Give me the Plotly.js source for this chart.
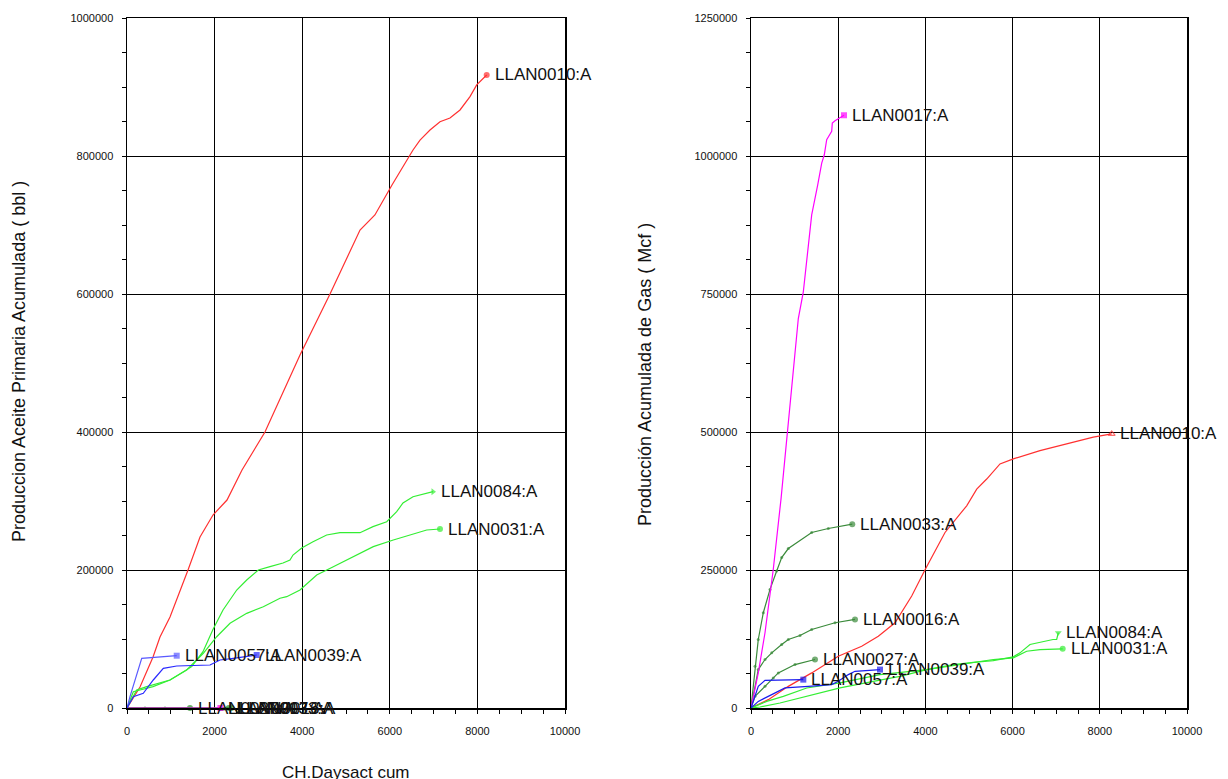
<!DOCTYPE html>
<html>
<head>
<meta charset="utf-8">
<script src="https://cdn.plot.ly/plotly-3.0.1.min.js"></script>
<style>html,body{margin:0;padding:0;background:#fff;}#chart{width:1228px;height:779px;}</style>
</head>
<body>
<div id="chart"></div>
<script>
// ---------- DATA (days vs cumulative production) ----------
const wellNames = ['LLAN0010:A','LLAN0016:A','LLAN0017:A','LLAN0027:A','LLAN0031:A','LLAN0033:A','LLAN0039:A','LLAN0057:A','LLAN0084:A'];

// Oil (bbl)
const w0010_oil_days = [0, 297, 594, 753, 982, 1256, 1393, 1667, 1963, 2283, 2626, 3150, 3950, 4635, 5320, 5660, 6050, 6530, 6690, 6918, 7146, 7374, 7603, 7831, 7984, 8212];
const w0010_oil      = [0, 30400, 73900, 102900, 131900, 175400, 200000, 247800, 279700, 301400, 345000, 400000, 511600, 600000, 692700, 714500, 758000, 808700, 823000, 837700, 849700, 855000, 866700, 886000, 903000, 917400];
const w0084_oil_days = [0, 144, 297, 594, 982, 1477, 1735, 1957, 2192, 2505, 2733, 2998, 3265, 3562, 3721, 3790, 3989, 4247, 4559, 4863, 5320, 5616, 5929, 6157, 6301, 6530, 6986];
const w0084_oil      = [0, 23600, 26100, 30900, 40600, 59900, 81600, 113000, 142000, 171000, 185500, 200000, 204800, 210100, 214500, 221700, 231900, 241000, 250700, 254100, 254100, 262800, 270000, 284500, 297100, 306200, 313500];
const w0031_oil_days = [0, 221, 450, 982, 1363, 1742, 2048, 2352, 2733, 3112, 3493, 3646, 3950, 4331, 4710, 5167, 5623, 6080, 6461, 6842, 7146];
const w0031_oil      = [0, 26100, 30900, 40600, 55100, 79300, 103300, 122800, 137200, 146800, 159000, 161300, 171000, 192800, 204800, 219300, 233800, 243500, 250700, 258000, 259400];
const w0057_oil_days = [0, 68, 336, 1135];
const w0057_oil      = [0, 16400, 72000, 75800];
const w0039_oil_days = [0, 144, 372, 600, 829, 1135, 1895, 2123, 2427, 2961];
const w0039_oil      = [0, 16400, 21300, 40600, 57500, 60900, 62300, 69600, 72000, 76800];
const w0027_oil_days = [0, 411, 868, 1438];
const w0027_oil      = [0, 0, 0, 0];
const w0017_oil_days = [0, 2133];
const w0017_oil      = [0, 0];
const w0016_oil_days = [0, 2385];
const w0016_oil      = [0, 0];
const w0033_oil_days = [0, 2323];
const w0033_oil      = [0, 0];

// Gas (Mcf)
const w0010_gas_days = [0, 397, 856, 1392, 2002, 2539, 2920, 3303, 3686, 3998, 4450, 4947, 5177, 5406, 5711, 6016, 6628, 7392, 7851, 8273];
const w0010_gas      = [0, 15100, 39200, 63600, 93700, 111900, 130100, 154400, 202800, 251300, 318000, 366300, 396600, 414800, 442100, 451200, 466200, 481500, 490600, 496600];
const w0017_gas_days = [0, 167, 321, 511, 688, 933, 1009, 1085, 1200, 1314, 1392, 1530, 1622, 1681, 1736, 1851, 1865, 1927, 2133];
const w0017_gas      = [0, 63600, 136300, 251300, 378500, 578300, 632800, 705500, 754000, 844800, 893200, 947700, 987100, 1002200, 1029400, 1044700, 1059800, 1063900, 1073800];
const w0033_gas_days = [0, 92, 167, 282, 436, 589, 704, 856, 1392, 1773, 2323];
const w0033_gas      = [0, 75600, 124100, 172600, 214900, 248200, 272500, 288900, 317900, 325200, 333000];
const w0016_gas_days = [0, 167, 321, 475, 704, 856, 1124, 1392, 1927, 2385];
const w0016_gas      = [0, 69600, 87800, 99900, 115000, 124100, 131300, 142300, 154400, 160400];
const w0027_gas_days = [0, 92, 321, 511, 626, 1009, 1468];
const w0027_gas      = [0, 21100, 39200, 54500, 63600, 78700, 87800];
const w0057_gas_days = [0, 167, 321, 1200];
const w0057_gas      = [0, 39200, 50100, 51400];
const w0039_gas_days = [0, 167, 475, 780, 1314, 1851, 2002, 2232, 2385, 2959];
const w0039_gas      = [0, 12000, 24200, 36300, 39200, 42300, 48300, 60500, 66500, 69600];
const w0084_gas_days = [0, 206, 665, 1278, 2041, 2805, 3417, 4030, 4640, 5099, 5557, 6016, 6170, 6399, 6628, 6927, 7011, 7048];
const w0084_gas      = [0, 1800, 9100, 21100, 36300, 48300, 57400, 69600, 78700, 82800, 85900, 92700, 99900, 115000, 119200, 124100, 124100, 136300];
const w0031_gas_days = [0, 360, 741, 1278, 2041, 2959, 4030, 4947, 5557, 6016, 6094, 6323, 6628, 7149];
const w0031_gas      = [0, 12000, 21100, 36300, 45400, 60500, 69600, 80500, 87800, 90800, 93700, 102800, 105900, 107200];

// ---------- STYLE ----------
const SANS = "'Liberation Sans', Arial, sans-serif";

const oilSeries = [
  {name: wellNames[3], x: w0027_oil_days, y: w0027_oil, color: '#2e8b2e', sym: 'circle', dots: true},
  {name: wellNames[1], x: w0016_oil_days, y: w0016_oil, color: '#2e8b2e', sym: 'circle', dots: true},
  {name: wellNames[5], x: w0033_oil_days, y: w0033_oil, color: '#2e8b2e', sym: 'circle', dots: true},
  {name: wellNames[2], x: w0017_oil_days, y: w0017_oil, color: '#ff00ff', sym: 'square', dots: false},
  {name: wellNames[0], x: w0010_oil_days, y: w0010_oil, color: '#ff3030', sym: 'circle', dots: false},
  {name: wellNames[8], x: w0084_oil_days, y: w0084_oil, color: '#33ee33', sym: 'triangle-right', dots: false},
  {name: wellNames[4], x: w0031_oil_days, y: w0031_oil, color: '#33ee33', sym: 'circle', dots: false},
  {name: wellNames[7], x: w0057_oil_days, y: w0057_oil, color: '#5a5aff', sym: 'square', dots: false},
  {name: wellNames[6], x: w0039_oil_days, y: w0039_oil, color: '#2a2aff', sym: 'square', dots: false}
];
const gasSeries = [
  {name: wellNames[5], x: w0033_gas_days, y: w0033_gas, color: '#3a8a3a', sym: 'circle', dots: true},
  {name: wellNames[1], x: w0016_gas_days, y: w0016_gas, color: '#3a8a3a', sym: 'circle', dots: true},
  {name: wellNames[3], x: w0027_gas_days, y: w0027_gas, color: '#3a8a3a', sym: 'circle', dots: true},
  {name: wellNames[2], x: w0017_gas_days, y: w0017_gas, color: '#ff00ff', sym: 'square', dots: false},
  {name: wellNames[0], x: w0010_gas_days, y: w0010_gas, color: '#ff3030', sym: 'triangle-up-open', dots: false},
  {name: wellNames[8], x: w0084_gas_days, y: w0084_gas, color: '#33ee33', sym: 'triangle-down', dots: false},
  {name: wellNames[4], x: w0031_gas_days, y: w0031_gas, color: '#33ee33', sym: 'circle', dots: false},
  {name: wellNames[7], x: w0057_gas_days, y: w0057_gas, color: '#1a1aee', sym: 'square', dots: false},
  {name: wellNames[6], x: w0039_gas_days, y: w0039_gas, color: '#1a1aee', sym: 'square', dots: false}
];

const traces = [];
const annotations = [];
function addSeries(list, xa, ya) {
  list.forEach(s => {
    const n = s.x.length;
    const sizes = s.x.map((_, i) => i === n - 1 ? 6 : (s.dots && i > 0 ? 3 : 0));
    traces.push({
      type: 'scatter', mode: 'lines+markers', x: s.x, y: s.y, xaxis: xa, yaxis: ya,
      name: s.name, cliponaxis: false, hoverinfo: 'x+y+name',
      line: {color: s.color, width: 1.2},
      marker: {color: s.color, size: sizes, symbol: s.sym, line: {width: s.sym.indexOf('open') >= 0 ? 1.2 : 0, color: s.color}}
    });
    annotations.push({
      xref: xa, yref: ya, x: s.x[n - 1], y: s.y[n - 1], text: s.name, showarrow: false,
      xanchor: 'left', yanchor: 'middle', xshift: 6,
      font: {family: SANS, size: 17, color: '#111'}
    });
  });
}
addSeries(oilSeries, 'x', 'y');
addSeries(gasSeries, 'x2', 'y2');

annotations.push({
  xref: 'paper', yref: 'paper', x: 19 / 1228, y: (779 - 362) / 779, textangle: -90,
  text: 'Produccion Aceite Primaria Acumulada ( bbl )', showarrow: false,
  xanchor: 'center', yanchor: 'middle', font: {family: SANS, size: 18, color: '#111'}
});
annotations.push({
  xref: 'paper', yref: 'paper', x: 645 / 1228, y: (779 - 375) / 779, textangle: -90,
  text: 'Producción Acumulada de Gas ( Mcf )', showarrow: false,
  xanchor: 'center', yanchor: 'middle', font: {family: SANS, size: 18, color: '#111'}
});
annotations.push({
  xref: 'paper', yref: 'paper', x: 346 / 1228, y: 7 / 779,
  text: 'CH.Daysact cum', showarrow: false,
  xanchor: 'center', yanchor: 'middle', font: {family: SANS, size: 17, color: '#111'}
});

function xAxis(domain, anchor) {
  return {
    domain: domain, anchor: anchor, range: [0, 10000], tick0: 0, dtick: 2000, tickformat: 'd',
    showgrid: true, gridcolor: '#000', gridwidth: 1, zeroline: false,
    showline: true, linecolor: '#000', linewidth: 1.5, mirror: true,
    ticks: 'outside', ticklen: 4, tickcolor: '#000', ticklabelstandoff: 8,
    minor: {dtick: 500, tick0: 0, ticks: 'outside', ticklen: 4, tickcolor: '#000', showgrid: false},
    tickfont: {family: SANS, size: 11, color: '#111'}
  };
}
function yAxis(range, dtick, minor, anchor) {
  return {
    domain: [71 / 779, 761 / 779], anchor: anchor, range: range, tick0: 0, dtick: dtick, tickformat: 'd',
    showgrid: true, gridcolor: '#000', gridwidth: 1, zeroline: false,
    showline: true, linecolor: '#000', linewidth: 1.5, mirror: true,
    ticks: 'outside', ticklen: 4, tickcolor: '#000', ticklabelstandoff: 6,
    minor: {dtick: minor, tick0: 0, ticks: 'outside', ticklen: 4, tickcolor: '#000', showgrid: false},
    tickfont: {family: SANS, size: 11, color: '#111'}
  };
}

const layout = {
  width: 1228, height: 779, margin: {l: 0, r: 0, t: 0, b: 0},
  paper_bgcolor: '#fff', plot_bgcolor: '#fff', showlegend: false,
  xaxis: xAxis([127 / 1228, 565 / 1228], 'y'),
  yaxis: yAxis([0, 1000000], 200000, 50000, 'x'),
  xaxis2: xAxis([751 / 1228, 1187 / 1228], 'y2'),
  yaxis2: yAxis([0, 1250000], 250000, 62500, 'x2'),
  annotations: annotations
};

Plotly.newPlot('chart', traces, layout, {displayModeBar: false, staticPlot: true});
</script>
</body>
</html>
